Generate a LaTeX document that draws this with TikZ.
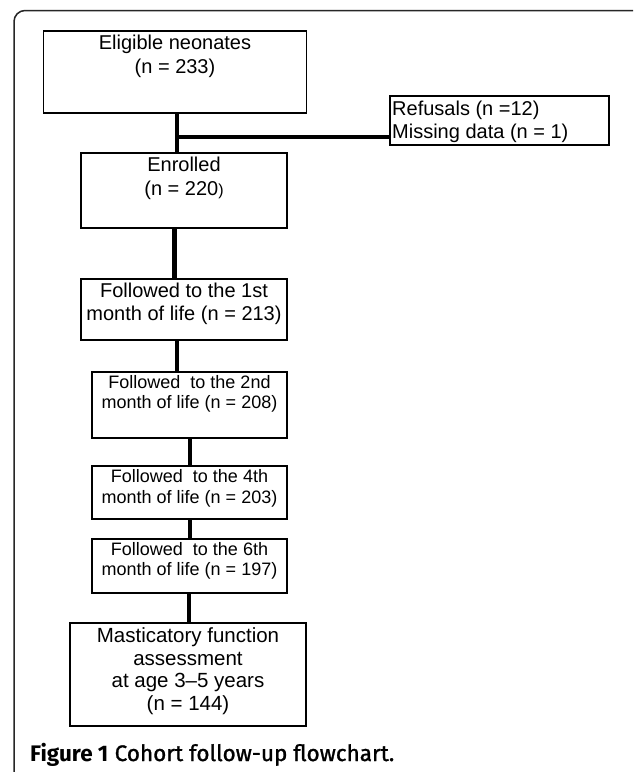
\documentclass[tikz,border=0pt]{standalone}
\usepackage{fontspec}
\setmainfont{Liberation Sans}
\newfontfamily\capfont{Fira Sans}
\newfontfamily\capsemi[FakeBold=1.2]{Fira Sans}
\begin{document}
\begin{tikzpicture}[x=1pt,y=-1pt,
  box/.style={draw=black, line width=1.5pt, inner sep=0pt},
  txt/.style={align=center, inner sep=0pt, font=\fontsize{20}{24}\selectfont},
  smalltxt/.style={align=center, inner sep=0pt, font=\fontsize{18}{20.5}\selectfont},
  conn/.style={line width=4.3pt, black},
  frameline/.style={draw=black!85, line width=1.5pt, rounded corners=11pt}]
\useasboundingbox (0,0) rectangle (633,772);
\clip (0,0) rectangle (633,772);
\fill[white] (0,0) rectangle (633,772);
\draw[frameline] (14,10.5) rectangle (700,830);
% boxes
\node[box, minimum width=263pt, minimum height=82pt] (b1) at (175,72) {};
\node[txt] (t1) at (175,56.5) {Eligible neonates\\(n = 233)};
\node[box, minimum width=219pt, minimum height=49pt] (ref) at (499.5,120.5) {};
\node[txt, align=left, anchor=west, font=\fontsize{20}{23}\selectfont] (tref) at (392,121.5) {Refusals (n =12)\\Missing data (n = 1)};
\node[box, minimum width=206pt, minimum height=75pt] (enr) at (184,190.5) {};
\node[txt] (tenr) at (184,178.5) {Enrolled\\(n = 220{\fontsize{16}{16}\selectfont)}};
\node[box, minimum width=206pt, minimum height=61pt] (f1) at (184,309.5) {};
\node[txt, font=\fontsize{20}{23}\selectfont] (tf1) at (184,303.5) {Followed to the 1st\\month of life (n = 213)};
\node[box, minimum width=195pt, minimum height=66pt] (f2) at (189.5,405) {};
\node[smalltxt] (tf2) at (189.5,394) {Followed\ \ to the 2nd\\month of life (n = 208)};
\node[box, minimum width=195pt, minimum height=53pt] (f4) at (189.5,492.5) {};
\node[smalltxt] (tf4) at (189.5,488.5) {Followed\ \ to the 4th\\month of life (n = 203)};
\node[box, minimum width=195pt, minimum height=54pt] (f6) at (189.5,566) {};
\node[smalltxt] (tf6) at (189.5,561) {Followed\ \ to the 6th\\month of life (n = 197)};
\node[box, minimum width=236pt, minimum height=103pt] (fin) at (188,674.5) {};
\node[txt, font=\fontsize{20.5}{22.5}\selectfont] (tfin) at (188,671) {Masticatory function\\assessment\\at age 3--5 years\\(n = 144)};
% connectors
\coordinate (jn) at (176.8,137);
\draw[conn] ([xshift=1.8pt]b1.south) -- ([xshift=-7.2pt]enr.north);
\draw[conn] (jn) -- (jn -| ref.west);
\draw[conn] ([xshift=-9.6pt]enr.south) -- ([xshift=-9.6pt]f1.north);
\draw[conn] ([xshift=-7.2pt]f1.south) -- ([xshift=-12.7pt]f2.north);
\draw[conn] ([xshift=0.5pt]f2.south) -- ([xshift=0.5pt]f4.north);
\draw[conn] ([xshift=0.5pt]f4.south) -- ([xshift=0.5pt]f6.north);
\draw[conn] ([xshift=-0.5pt]f6.south) -- ([xshift=1pt]fin.north);
% caption
\node[anchor=base west, inner sep=0pt, font=\fontsize{22.5}{25}\selectfont] (cap) at (30,761) {{\capfont\bfseries Figure 1} {\capsemi Cohort follow-up flowchart.}};
\end{tikzpicture}
\end{document}
